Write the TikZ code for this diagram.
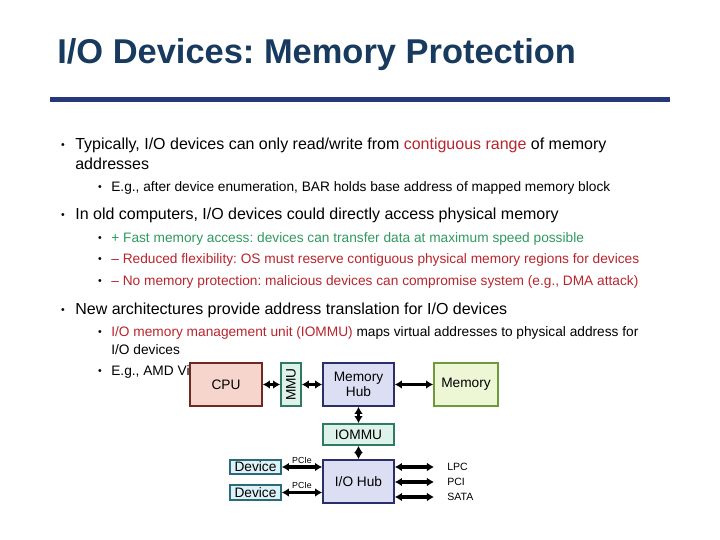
\documentclass[tikz,border=0pt]{standalone}
\usepackage{fontspec}
\setmainfont{Liberation Sans}
\usetikzlibrary{arrows.meta}
\definecolor{ttl}{HTML}{173A5E}
\definecolor{bar}{HTML}{26377A}
\definecolor{pro}{HTML}{2E9A5E}
\definecolor{con}{HTML}{B8242C}
\definecolor{cpuf}{HTML}{F6D6CC}\definecolor{cpud}{HTML}{6E2A20}
\definecolor{mmuf}{HTML}{DDF3EA}\definecolor{mmud}{HTML}{2E7A64}
\definecolor{hubf}{HTML}{DCDFF3}\definecolor{hubd}{HTML}{2A2F6A}
\definecolor{memf}{HTML}{EDF7D6}\definecolor{memd}{HTML}{6E9A38}
\definecolor{devf}{HTML}{DDF1F6}\definecolor{devd}{HTML}{2A6A7A}
\frenchspacing
\begin{document}
\begin{tikzpicture}[x=0.02cm,y=-0.02cm,
  txt/.style={anchor=west,inner sep=0pt,font=\fontsize{9.1}{11}\selectfont},
  sub/.style={anchor=west,inner sep=0pt,font=\fontsize{7.8}{9}\selectfont},
  dot/.style={anchor=center,inner sep=0pt,font=\fontsize{6}{7}\selectfont},
  box/.style={draw,line width=1.1pt,inner sep=0pt,font=\fontsize{7.8}{8.5}\selectfont,align=center},
  lnk/.style={line width=2pt,{Latex[length=4pt,width=5pt]}-{Latex[length=4pt,width=5pt]}},
  small/.style={inner sep=0pt,font=\fontsize{5}{6}\selectfont}]
\useasboundingbox (0,0) rectangle (720,540);
\node[anchor=west,inner sep=0pt,text=ttl,font=\bfseries\fontsize{19.6}{22}\selectfont] (title) at (57,55) {I/O Devices: Memory Protection};
\fill[bar] (50,97) rectangle (670,102);
% bullets
\node[dot] (b1) at (63,146) {•};
\node[txt] (t1) at (75,145) {Typically, I/O devices can only read/write from \textcolor{con}{contiguous range} of memory};
\node[txt] (t1b) at (75,164) {addresses};
\node[dot] (b11) at (100,188) {•};
\node[sub] (t11) at (111,188) {E.g., after device enumeration, BAR holds base address of mapped memory block};
\node[dot] (b2) at (63,216) {•};
\node[txt] (t2) at (75,215) {In old computers, I/O devices could directly access physical memory};
\node[dot] (b21) at (100,239) {•};
\node[sub,text=pro] (t21) at (111,239) {+ Fast memory access: devices can transfer data at maximum speed possible};
\node[dot] (b22) at (100,260) {•};
\node[sub,text=con] (t22) at (111,260) {– Reduced flexibility: OS must reserve contiguous physical memory regions for devices};
\node[dot] (b23) at (100,282) {•};
\node[sub,text=con] (t23) at (111,282) {– No memory protection: malicious devices can compromise system (e.g., DMA attack)};
\node[dot] (b3) at (63,311) {•};
\node[txt] (t3) at (75,310) {New architectures provide address translation for I/O devices};
\node[dot] (b31) at (100,333) {•};
\node[sub] (t31) at (111,333) {\textcolor{con}{I/O memory management unit (IOMMU)} maps virtual addresses to physical address for};
\node[sub] (t31b) at (111,350) {I/O devices};
\node[dot] (b32) at (100,372) {•};
\node[sub] (t32) at (111,372) {E.g., AMD Vi, Intel VT-d};
% diagram
\node[box,draw=cpud,fill=cpuf,minimum width=1.44cm,minimum height=0.86cm] (cpu) at (226,384.5) {CPU};
\node[box,draw=mmud,fill=mmuf,minimum width=0.4cm,minimum height=0.86cm] (mmu) at (291,384.5) {\rotatebox{90}{MMU}};
\node[box,draw=hubd,fill=hubf,minimum width=1.42cm,minimum height=0.86cm] (mhub) at (358.5,384.5) {Memory\\Hub};
\node[box,draw=memd,fill=memf,minimum width=1.28cm,minimum height=0.86cm] (mem) at (466,384.5) {Memory};
\node[box,draw=mmud,fill=mmuf,minimum width=1.42cm,minimum height=0.42cm] (iommu) at (358.5,434.5) {IOMMU};
\node[box,draw=hubd,fill=hubf,minimum width=1.42cm,minimum height=0.86cm] (iohub) at (358.5,481.5) {I/O Hub};
\node[box,draw=devd,fill=devf,minimum width=1.02cm,minimum height=0.28cm] (dev1) at (255.5,467) {Device};
\node[box,draw=devd,fill=devf,minimum width=1.02cm,minimum height=0.3cm] (dev2) at (255.5,492.5) {Device};
\coordinate (l1) at (434,467);
\coordinate (l2) at (434,482);
\coordinate (l3) at (434,497);
\node[small,anchor=west,font=\fontsize{6}{7}\selectfont] (lpc) at (447,467) {LPC};
\node[small,anchor=west,font=\fontsize{6}{7}\selectfont] (pci) at (447,482) {PCI};
\node[small,anchor=west,font=\fontsize{6}{7}\selectfont] (sata) at (447,497) {SATA};
\draw[lnk] (cpu) -- (mmu);
\draw[lnk] (mmu) -- (mhub);
\draw[lnk] (mhub) -- (mem);
\draw[lnk] (mhub) -- (iommu);
\draw[lnk] (iommu) -- (iohub);
\draw[lnk] (dev1.east) -- (iohub.west |- dev1.east) node[small,midway,above=1pt] (p1) {PCIe};
\draw[lnk] (dev2.east) -- (iohub.west |- dev2.east) node[small,midway,above=1pt] (p2) {PCIe};
\draw[lnk] (iohub.east |- l1) -- (l1);
\draw[lnk] (iohub.east |- l2) -- (l2);
\draw[lnk] (iohub.east |- l3) -- (l3);
\end{tikzpicture}
\end{document}
